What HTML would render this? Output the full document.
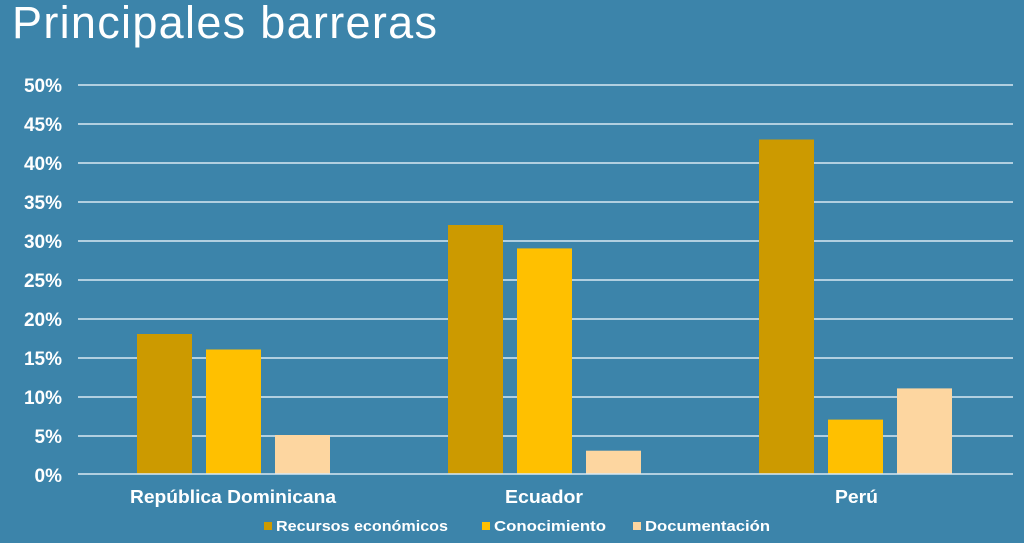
<!DOCTYPE html><html><head><style>body{margin:0;background:#3c84aa;}</style></head><body>
<svg width="1024" height="543" xmlns="http://www.w3.org/2000/svg" style="display:block;font-family:'Liberation Sans',sans-serif">
<rect width="1024" height="543" fill="#3c84aa"/>
<text x="12" y="38" font-size="45" fill="#fff" textLength="425" lengthAdjust="spacing">Principales barreras</text>
<g stroke="#d8e8f2" stroke-width="1.5">
<line x1="78" x2="1013" y1="85" y2="85"/><line x1="78" x2="1013" y1="124" y2="124"/><line x1="78" x2="1013" y1="163" y2="163"/><line x1="78" x2="1013" y1="202" y2="202"/><line x1="78" x2="1013" y1="241" y2="241"/><line x1="78" x2="1013" y1="280" y2="280"/><line x1="78" x2="1013" y1="319" y2="319"/><line x1="78" x2="1013" y1="358" y2="358"/><line x1="78" x2="1013" y1="397" y2="397"/><line x1="78" x2="1013" y1="436" y2="436"/>
</g>
<g font-size="19" font-weight="bold" fill="#fff" text-anchor="end">
<text x="62" y="92">50%</text><text x="62" y="131">45%</text><text x="62" y="170">40%</text><text x="62" y="209">35%</text><text x="62" y="248">30%</text><text x="62" y="287">25%</text><text x="62" y="326">20%</text><text x="62" y="365">15%</text><text x="62" y="404">10%</text><text x="62" y="443">5%</text><text x="62" y="482">0%</text>
</g>
<g fill="#cc9a00"><rect x="137" y="334" width="55" height="140"/><rect x="448" y="225" width="55" height="249"/><rect x="759" y="139.5" width="55" height="334.5"/></g>
<g fill="#ffc000"><rect x="206" y="349.5" width="55" height="124.5"/><rect x="517" y="248.4" width="55" height="225.6"/><rect x="828" y="419.6" width="55" height="54.4"/></g>
<g fill="#fdd6a0"><rect x="275" y="435" width="55" height="39"/><rect x="586" y="450.7" width="55" height="23.3"/><rect x="897" y="388.4" width="55" height="85.6"/></g>
<line x1="78" x2="1013" y1="474" y2="474" stroke="#d8e8f2" stroke-width="1.5"/>
<g font-size="18" font-weight="bold" fill="#fff">
<text x="130" y="503" textLength="206" lengthAdjust="spacingAndGlyphs">República Dominicana</text><text x="505" y="503" textLength="78" lengthAdjust="spacingAndGlyphs">Ecuador</text><text x="835" y="503" textLength="43" lengthAdjust="spacingAndGlyphs">Perú</text>
</g>
<g font-size="15" font-weight="bold" fill="#fff">
<rect x="264" y="522" width="8" height="8" fill="#cc9a00"/><text x="276" y="531" textLength="172" lengthAdjust="spacingAndGlyphs">Recursos económicos</text>
<rect x="482" y="522" width="8" height="8" fill="#ffc000"/><text x="494" y="531" textLength="112" lengthAdjust="spacingAndGlyphs">Conocimiento</text>
<rect x="633" y="522" width="8" height="8" fill="#fdd6a0"/><text x="645" y="531" textLength="125" lengthAdjust="spacingAndGlyphs">Documentación</text>
</g>
</svg>
</body></html>
